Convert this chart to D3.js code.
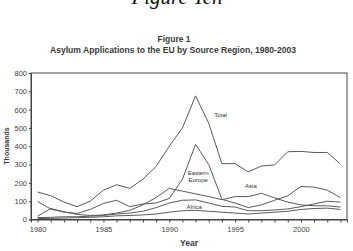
<!DOCTYPE html>
<html>
<head>
<meta charset="utf-8">
<script src="https://cdn.jsdelivr.net/npm/d3@7"></script>
<style>
  body { margin: 0; background: #fff; }
  svg { display: block; }
  text { font-family: "Liberation Sans", Arial, sans-serif; fill: #3a3a3a; }
</style>
</head>
<body>
<div id="chart"></div>
<script>
// data (thousands of applications)
const years = d3.range(1980, 2004);
const total      = [150,130,95,70,100,160,190,170,220,290,400,500,675,525,305,305,260,292,298,370,372,366,366,303];
const eastEurope = [98,57,40,33,55,88,105,70,85,90,115,220,410,300,110,90,65,80,105,130,180,177,160,120];
const asia       = [18,60,42,28,22,25,35,50,80,120,170,155,140,125,108,125,125,143,118,95,80,75,75,68];
const africa     = [10,12,15,15,18,22,30,35,45,65,90,105,107,90,72,68,48,48,52,58,70,85,100,95];
const other      = [5,6,8,10,12,15,20,22,25,30,40,48,50,45,40,35,30,35,40,45,55,60,62,55];
const yTicks = [0,100,200,300,400,500,600,700,800];
const xLabels = [1980,1985,1990,1995,2000];

const W = 353, H = 251;
const margin = {top: 73, right: 6, bottom: 31.5, left: 31};
const width = W - margin.left - margin.right,
      height = H - margin.top - margin.bottom;

const svg = d3.select("#chart").append("svg")
  .attr("width", W).attr("height", H);

// headings
svg.append("text").attr("x", 177).attr("y", 4)
  .attr("text-anchor", "middle")
  .style("font-family", "'Liberation Serif', serif")
  .style("font-style", "italic").style("font-size", "21px")
  .style("fill", "#111")
  .text("Figure Ten");
svg.append("text").attr("x", 174).attr("y", 42)
  .attr("text-anchor", "middle").style("font-weight", "bold").style("font-size", "8.5px")
  .text("Figure 1");
svg.append("text").attr("x", 173).attr("y", 53)
  .attr("text-anchor", "middle").style("font-weight", "bold").style("font-size", "8.6px")
  .text("Asylum Applications to the EU by Source Region, 1980-2003");

const g = svg.append("g")
  .attr("transform", "translate(" + margin.left + "," + margin.top + ")");

const x = d3.scaleLinear().domain([1979.5, 2003.5]).range([0, width]);
const y = d3.scaleLinear().domain([0, 800]).range([height, 0]);

// frame
g.append("rect").attr("width", width).attr("height", height)
  .attr("fill", "none").attr("stroke", "#444").attr("stroke-width", 1);

// y axis
const yAx = g.append("g").call(d3.axisLeft(y).tickValues(yTicks).tickSize(2).tickPadding(2));
yAx.select(".domain").attr("stroke", "#444");
yAx.selectAll("line").attr("stroke", "#444");
yAx.selectAll("text").style("font-size", "7.5px").style("fill", "#444");

// x axis, a tick at every year
const xAx = g.append("g").attr("transform", "translate(0," + height + ")")
  .call(d3.axisBottom(x).tickValues(years).tickSize(3).tickPadding(4)
    .tickFormat(d => xLabels.includes(d) ? d : ""));
xAx.select(".domain").attr("stroke", "#444");
xAx.selectAll("line").attr("stroke", "#444");
xAx.selectAll("text").style("font-size", "7.5px").style("fill", "#444");

svg.append("text").attr("x", 189).attr("y", 246)
  .attr("text-anchor", "middle").style("font-weight", "bold").style("font-size", "8.5px")
  .text("Year");
svg.append("text").attr("transform", "translate(9,146) rotate(-90)")
  .attr("text-anchor", "middle").style("font-weight", "bold").style("font-size", "7px")
  .text("Thousands");

// lines
const line = d3.line().x((d, i) => x(years[i])).y(d => y(d));
[total, eastEurope, asia, africa, other].forEach(s => {
  g.append("path").datum(s).attr("d", line)
    .attr("fill", "none").attr("stroke", "#5a5a5a").attr("stroke-width", 1);
});

// in-plot labels
const labels = [
  {t: "Total", yr: 1993.9, v: 571},
  {t: "Eastern", yr: 1992.2, v: 256},
  {t: "Europe", yr: 1992.2, v: 218},
  {t: "Asia", yr: 1996.2, v: 185},
  {t: "Africa", yr: 1991.9, v: 67}
];
g.selectAll(".lab").data(labels).enter().append("text")
  .attr("x", d => x(d.yr)).attr("y", d => y(d.v))
  .attr("text-anchor", "middle").attr("dy", "0.35em")
  .style("font-size", "6px").style("fill", "#333")
  .text(d => d.t);
</script>
</body>
</html>
